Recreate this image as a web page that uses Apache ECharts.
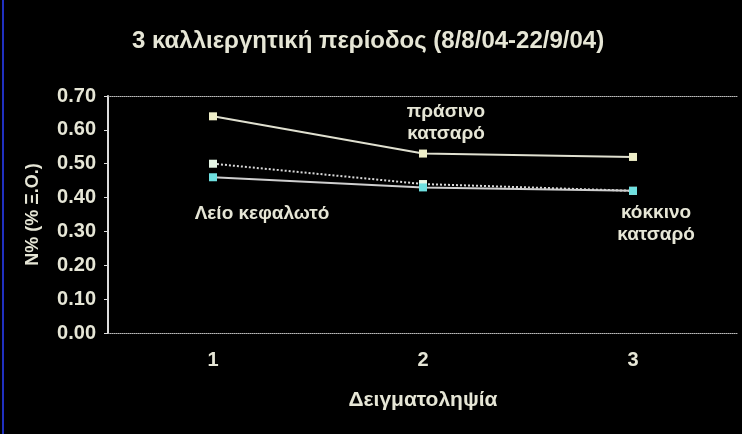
<!DOCTYPE html>
<html>
<head>
<meta charset="utf-8">
<script src="https://cdn.jsdelivr.net/npm/echarts@6/dist/echarts.min.js"></script>
<style>
html,body{margin:0;padding:0;background:#000;}
#c{width:742px;height:434px;}
</style>
</head>
<body>
<div id="c"></div>
<script>
const titleText = '3 καλλιεργητική περίοδος (8/8/04-22/9/04)';
const categories = ['1', '2', '3'];
const seriesNames = ['πράσινο\nκατσαρό', 'Λείο κεφαλωτό', 'κόκκινο\nκατσαρό'];
const prasino = [0.64, 0.53, 0.52];
const leio = [0.50, 0.44, 0.42];
const kokkino = [0.46, 0.43, 0.42];
const yTicks = ['0.00','0.10','0.20','0.30','0.40','0.50','0.60','0.70'];
const xName = 'Δειγματοληψία';
const yName = 'N% (% Ξ.Ο.)';

const txt = '#e6e6d6';
const font = 'Liberation Sans';

function withLabel(values, idx, label) {
  return values.map((v, i) => i === idx ? { value: v, label: Object.assign({ show: true, formatter: '{a}', color: txt, fontSize: 19, fontWeight: 'bold', fontFamily: font, lineHeight: 22 }, label) } : v);
}

const chart = echarts.init(document.getElementById('c'));
chart.setOption({
  backgroundColor: '#000',
  animation: false,
  title: {
    text: titleText, left: 127, top: 24,
    textStyle: { color: txt, fontSize: 24, fontWeight: 'bold', fontFamily: font }
  },
  graphic: [{
    type: 'line', shape: { x1: 3, y1: 0, x2: 3, y2: 434 },
    style: { stroke: '#2030c0', lineWidth: 2 }
  }],
  grid: { left: 108, right: 4, top: 96, bottom: 101 },
  xAxis: [{
    type: 'category', data: categories, boundaryGap: true,
    name: xName, nameLocation: 'middle', nameGap: 57,
    nameTextStyle: { color: txt, fontSize: 21, fontWeight: 'bold', fontFamily: font },
    axisLine: { lineStyle: { color: '#bbb', type: 'dotted', width: 1 } },
    axisTick: { show: false },
    axisLabel: { color: txt, fontSize: 20, fontWeight: 'bold', fontFamily: font, margin: 17 }
  }, {
    type: 'category', data: categories, position: 'top', boundaryGap: true,
    axisLine: { show: true, lineStyle: { color: '#bbb', type: 'dotted', width: 1 } },
    axisTick: { show: false }, axisLabel: { show: false }
  }],
  yAxis: {
    type: 'value', min: 0, max: 0.7, interval: 0.1,
    name: yName, nameLocation: 'middle', nameGap: 66, nameRotate: 90,
    nameTextStyle: { color: txt, fontSize: 18, fontWeight: 'bold', fontFamily: font },
    axisLine: { show: true, lineStyle: { color: '#ddd', width: 2 } },
    axisTick: { show: true, length: 4, lineStyle: { color: '#ddd' } },
    splitLine: { show: false },
    axisLabel: { color: txt, fontSize: 20, fontWeight: 'bold', fontFamily: font, margin: 12,
      formatter: (v) => yTicks[Math.round(v * 10)] }
  },
  series: [{
    name: seriesNames[0], type: 'line',
    data: withLabel(prasino, 1, { position: 'top', offset: [23, 0] }),
    symbol: 'rect', symbolSize: 8,
    lineStyle: { color: '#e0e0d0', width: 2 },
    itemStyle: { color: '#eeeec8' }
  }, {
    name: seriesNames[1], type: 'line',
    data: withLabel(leio, 0, { position: 'bottom', offset: [49, 30] }),
    symbol: 'rect', symbolSize: 8,
    lineStyle: { color: '#d8d8d8', width: 2, type: 'dotted' },
    itemStyle: { color: '#e6f6e6' }
  }, {
    name: seriesNames[2], type: 'line',
    data: withLabel(kokkino, 2, { position: 'bottom', offset: [23, 2] }),
    symbol: 'rect', symbolSize: 8,
    lineStyle: { color: '#cfcfcf', width: 2 },
    itemStyle: { color: '#6fe0e0' }
  }]
});
</script>
</body>
</html>
